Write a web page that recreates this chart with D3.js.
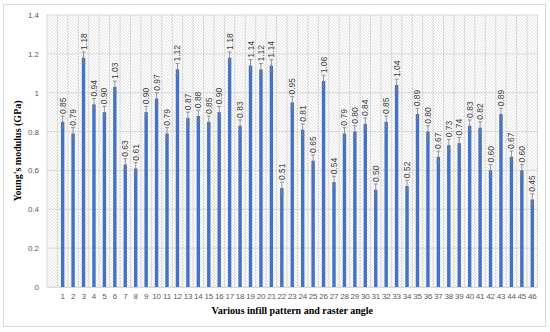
<!DOCTYPE html>
<html>
  <head>
    <style>
    body { margin: 0; background: #fff; }
    .bar { fill: #4472c4; }
    .tick text { font-family: 'Liberation Sans', Arial, sans-serif; font-size: 8px; fill: #595959; }
    .title { font-family: 'Liberation Serif', 'Times New Roman', serif; font-weight: bold; font-size: 10px; fill: #000; }
    </style>
  </head>
  <body>

    <svg width="550" height="332"></svg>

    <script src="https://cdn.jsdelivr.net/npm/d3@7"></script>
    <script>

      const categories = d3.range(1, 47).map(String)
      const values = [0.85, 0.79, 1.18, 0.94, 0.90, 1.03, 0.63, 0.61, 0.90, 0.97,
                      0.79, 1.12, 0.87, 0.88, 0.85, 0.90, 1.18, 0.83, 1.14, 1.12,
                      1.14, 0.51, 0.95, 0.81, 0.65, 1.06, 0.54, 0.79, 0.80, 0.84,
                      0.50, 0.85, 1.04, 0.52, 0.89, 0.80, 0.67, 0.73, 0.74, 0.83,
                      0.82, 0.60, 0.89, 0.67, 0.60, 0.45]
      const errors = [0.03, 0.03, 0.03, 0.03, 0.03, 0.03, 0.03, 0.03, 0.03, 0.03,
                      0.03, 0.03, 0.03, 0.03, 0.03, 0.03, 0.03, 0.03, 0.03, 0.03,
                      0.03, 0.03, 0.03, 0.03, 0.03, 0.03, 0.03, 0.03, 0.03, 0.03,
                      0.03, 0.03, 0.03, 0.03, 0.03, 0.03, 0.03, 0.03, 0.03, 0.03,
                      0.03, 0.03, 0.03, 0.03, 0.03, 0.03]
      const yTicks = [0, 0.2, 0.4, 0.6, 0.8, 1, 1.2, 1.4]

      const data = categories.map((c, i) => ({ cat: c, value: values[i], err: errors[i] }))

      const svg = d3.select('svg')
      const margin = {top: 15, right: 12.5, bottom: 45, left: 47}
      const width = +svg.attr('width') - margin.left - margin.right
      const height = +svg.attr('height') - margin.top - margin.bottom

      // outer frame
      svg.append('rect')
          .attr('x', 3.5).attr('y', 4.5).attr('width', 542).attr('height', 322)
          .attr('fill', '#fff').attr('stroke', '#d9d9d9')

      // hatched plot background
      const pat = svg.append('defs').append('pattern')
          .attr('id', 'hatch').attr('patternUnits', 'userSpaceOnUse')
          .attr('width', 3).attr('height', 3)
      pat.append('path').attr('d', 'M-1,-1 L4,4 M-1,2 L1,4 M2,-1 L4,1')
          .attr('stroke', '#dcdcdc').attr('stroke-width', 0.8)

      // leading empty band, as in the original
      const x = d3.scaleBand().domain([''].concat(categories)).range([0, width])
      const y = d3.scaleLinear().domain([0, 1.4]).range([height, 0])

      const chart = svg.append('g')
          .attr('transform', 'translate(' + margin.left + ',' + margin.top + ')')

      chart.append('rect').attr('width', width).attr('height', height).attr('fill', 'url(#hatch)')

      chart.selectAll('.hgrid')
        .data(yTicks)
        .enter().append('line')
          .attr('x1', 0).attr('x2', width)
          .attr('y1', d => y(d)).attr('y2', d => y(d))
          .attr('stroke', '#d9d9d9')

      chart.selectAll('.vgrid')
        .data(x.domain().concat(['end']))
        .enter().append('line')
          .attr('x1', (d, i) => i * x.step()).attr('x2', (d, i) => i * x.step())
          .attr('y1', 0).attr('y2', height)
          .attr('stroke', '#d9d9d9')

      const yAxis = chart.append('g')
          .call(d3.axisLeft(y).tickValues(yTicks).tickFormat(d3.format('~g')).tickSize(0).tickPadding(8))
      yAxis.select('.domain').remove()

      const xAxis = chart.append('g')
          .attr('transform', 'translate(0,' + height + ')')
          .call(d3.axisBottom(x).tickValues(categories).tickSize(0).tickPadding(6))
      xAxis.select('.domain').attr('stroke', '#d9d9d9')
      xAxis.selectAll('.tick text').attr('letter-spacing', -0.2)

      const barW = 3.4
      chart.selectAll('.bar')
        .data(data)
        .enter().append('rect')
          .attr('class', 'bar')
          .attr('x', d => x(d.cat) + x.bandwidth() / 2 - barW / 2)
          .attr('y', d => y(d.value))
          .attr('width', barW)
          .attr('height', d => height - y(d.value))

      const eb = chart.selectAll('.err')
        .data(data)
        .enter().append('g')
          .attr('transform', d => 'translate(' + (x(d.cat) + x.bandwidth() / 2) + ',0)')
          .attr('stroke', '#7f7f7f').attr('stroke-width', 0.8)
      eb.append('line').attr('y1', d => y(d.value - d.err)).attr('y2', d => y(d.value + d.err))
      eb.append('line').attr('x1', -2).attr('x2', 2)
          .attr('y1', d => y(d.value + d.err)).attr('y2', d => y(d.value + d.err))
      eb.append('line').attr('x1', -2).attr('x2', 2)
          .attr('y1', d => y(d.value - d.err)).attr('y2', d => y(d.value - d.err))

      chart.selectAll('.lbl')
        .data(data)
        .enter().append('text')
          .attr('transform', d => 'translate(' + (x(d.cat) + x.bandwidth() / 2 + 3) + ',' + (y(d.value + d.err) - 2) + ') rotate(-90)')
          .attr('font-family', 'Liberation Sans, Arial, sans-serif')
          .attr('font-size', 8.5)
          .attr('fill', '#404040')
          .text(d => d.value.toFixed(2))

      svg.append('text').attr('class', 'title')
          .attr('x', margin.left + width / 2).attr('y', 314)
          .attr('text-anchor', 'middle')
          .text('Various infill pattern and raster angle')

      svg.append('text').attr('class', 'title')
          .attr('transform', 'translate(21,' + (margin.top + height / 2) + ') rotate(-90)')
          .attr('text-anchor', 'middle')
          .text("Young's modulus (GPa)")

    </script>
  </body>
</html>
